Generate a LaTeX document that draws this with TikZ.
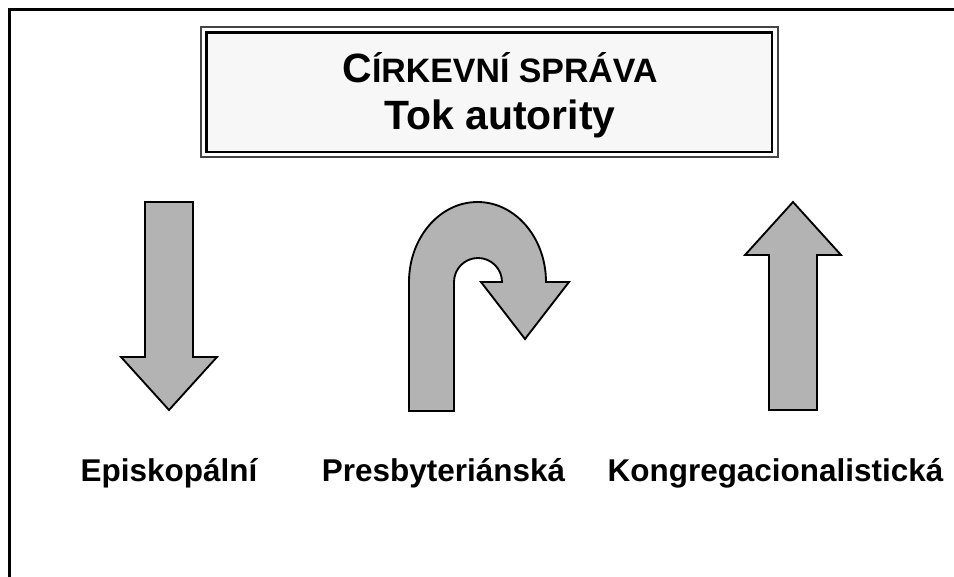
\documentclass[tikz,border=0pt]{standalone}
\usepackage{fontspec}
\setmainfont{Liberation Sans}
\usepackage{tikz}
\usetikzlibrary{positioning}
\definecolor{arrowgray}{HTML}{B3B3B3}
\definecolor{boxgray}{HTML}{F7F7F7}
\definecolor{edgegray}{HTML}{444444}
\tikzset{arrowshape/.style={draw=black, fill=arrowgray, line width=1.4pt, line join=miter},
	labeltext/.style={anchor=base, font=\bfseries\fontsize{23.6}{28}\selectfont}}
\newcommand{\blockarrow}{\draw[arrowshape] (-24,-104) -- (-24,51) -- (-48,51) -- (0,104) -- (48,51) -- (24,51) -- (24,-104) -- cycle;}
\newcommand{\uturnarrow}{\draw[arrowshape] (409,411) -- (409,282) arc[start angle=180, end angle=360, x radius=68.5, y radius=80]
					-- (569,282) -- (525,339) -- (481,282) -- (502,282)
					arc[start angle=0, end angle=-180, radius=24] -- (454,411) -- cycle;}

\begin{document}
\begin{tikzpicture}[x=0.75pt, y=-0.75pt]
					
					\useasboundingbox (0,0) rectangle (954,577);
					\draw[line width=2.25pt] (9.5,577) -- (9.5,10) -- (954,10);
					
					\draw[edgegray, line width=1.6pt] (201,26.7) rectangle (778,157);
					\draw[black, line width=2.1pt, fill=boxgray] (206.5,32.3) rectangle (772,152);
					
					\node[anchor=base, font=\bfseries] (title) at (500,83)
						{{\fontsize{30.7}{36}\selectfont C}{\fontsize{25.4}{30}\selectfont ÍRKEVNÍ SPRÁVA}};
					\node[anchor=base, font=\bfseries\fontsize{30.7}{36}\selectfont] (subtitle) at (500,130) {Tok autority};
					
					\begin{scope}[shift={(169,306)}]
						\blockarrow
					\end{scope}
					
					\uturnarrow
					
					\begin{scope}[shift={(793,306)}, rotate = 180]
						\blockarrow
					\end{scope}
					
					\node[labeltext] (episkopal) at (169,482) {Episkopální};
					\node[labeltext] (presbyter) at (443.5,482) {Presbyteriánská};
					\node[labeltext] (kongregace) at (775.5,482) {Kongregacionalistická};
					
				\end{tikzpicture}
\end{document}
